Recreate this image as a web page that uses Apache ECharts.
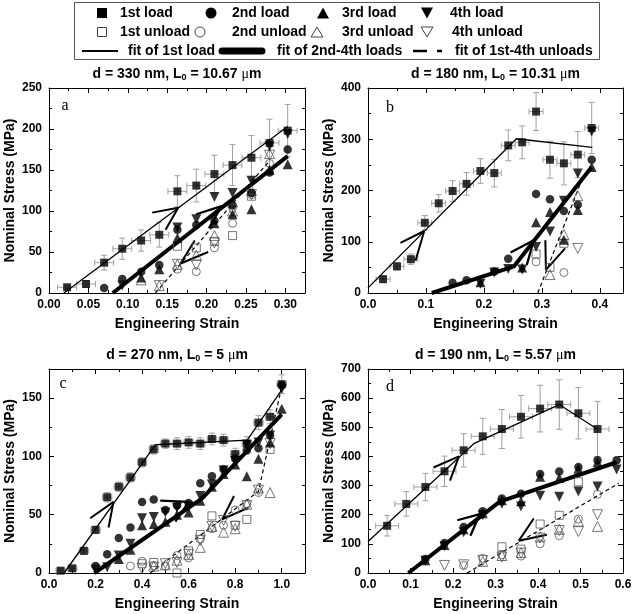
<!DOCTYPE html>
<html><head><meta charset="utf-8">
<script src="https://cdn.jsdelivr.net/npm/echarts@6/dist/echarts.min.js"></script>
<style>html,body{margin:0;padding:0;background:#fff}#c{width:638px;height:614px}</style>
</head><body><div id="c"></div>
<script>
// ---------------- Panel a : d = 330 nm, L0 = 10.67 um ----------------
const aX = [0.023,0.047,0.070,0.093,0.117,0.140,0.163,0.187,0.210,0.233,0.257,0.280,0.303];
const aLoad1 = [7,11,37,54,64,71,124,131,145,156,165,183,198];
const aLoad1Err = [2,4,9,13,13,15,19,20,23,25,27,29,32];
const aXErr = 0.012;
const aLoad2 = [[0.070,6],[0.093,17],[0.117,26],[0.140,34],[0.163,77],[0.187,83],[0.210,88],[0.233,107],[0.257,122],[0.280,147],[0.303,175]];
const aLoad3 = [[0.117,19],[0.140,29],[0.163,67],[0.210,85],[0.233,96],[0.257,102],[0.280,150],[0.303,157]];
const aLoad4 = [[0.093,9],[0.163,80],[0.187,90],[0.210,117],[0.233,122],[0.257,137],[0.280,179],[0.303,194]];
const aUnload1 = [[0.163,57],[0.187,55],[0.210,63],[0.233,70],[0.257,118]];
const aUnload2 = [[0.163,29],[0.187,26],[0.210,55],[0.233,85],[0.257,120],[0.280,158]];
const aUnload3 = [[0.117,16],[0.140,9],[0.163,35],[0.187,46],[0.210,70],[0.233,100],[0.257,125],[0.280,170]];
const aUnload4 = [[0.140,9],[0.163,35],[0.187,34],[0.210,61],[0.233,100],[0.257,120],[0.280,168]];
const aFit1 = [[0.019,0],[0.303,203]];
const aFit2 = [[0.081,0],[0.303,167]];
const aFitU = [[0.135,0],[0.279,160]];
const aArrow1 = [[0.131,98],[0.164,104],[0.148,77]];
const aArrow2 = [[0.187,96],[0.219,106],[0.203,79]];
const aArrowU = [[0.202,50],[0.167,36],[0.185,64]];

// ---------------- Panel b : d = 180 nm, L0 = 10.31 um ----------------
const bX = [0.026,0.050,0.074,0.098,0.122,0.146,0.170,0.194,0.218,0.242,0.266,0.290,0.314,0.338,0.362,0.386];
const bLoad1 = [27,52,66,137,175,199,213,238,234,288,294,354,260,253,270,322];
const bLoad1Err = [6,7,10,14,17,20,22,24,27,30,32,37,36,42,45,50];
const bXErr = 0.012;
const bLoad2 = [[0.146,20],[0.170,25],[0.218,42],[0.242,67],[0.290,193],[0.314,183],[0.338,160],[0.362,172],[0.386,260]];
const bLoad3 = [[0.194,21],[0.266,50],[0.290,138],[0.314,158],[0.338,104],[0.362,162],[0.386,246]];
const bLoad4 = [[0.194,18],[0.218,40],[0.242,47],[0.266,46],[0.290,90],[0.314,120],[0.338,180],[0.362,233],[0.386,315]];
const bUnload1 = [[0.290,76],[0.314,50],[0.338,97]];
const bUnload2 = [[0.290,61],[0.338,40]];
const bUnload3 = [[0.314,36],[0.338,114],[0.362,190]];
const bUnload4 = [[0.362,87]];
const bFit1 = [[0,10],[0.256,301],[0.387,284]];
const bFit2 = [[0.110,0],[0.252,52],[0.386,246]];
const bFitU = [[0.293,0],[0.372,230]];
const bArrow1 = [[0.056,98],[0.097,121],[0.082,63]];
const bArrow2 = [[0.246,79],[0.286,103],[0.274,55]];
const bArrowU = [[0.306,103],[0.307,45],[0.340,87]];

// ---------------- Panel c : d = 270 nm, L0 = 5 um ----------------
const cX = [0.05,0.10,0.15,0.20,0.25,0.30,0.35,0.40,0.45,0.50,0.55,0.60,0.65,0.70,0.75,0.80,0.85,0.90,0.95,1.00];
const cLoad1 = [2,4,19,37,65,74,82,95,106,111,111,112,111,115,114,102,111,129,134,162];
const cLoad1Err = [2,2,3,3,4,4,4,4,4,4,5,5,5,5,5,5,6,6,6,8];
const cXErr = 0.02;
const cLoad2 = [[0.20,6],[0.25,16],[0.30,30],[0.35,39],[0.40,61],[0.45,63],[0.50,54],[0.55,58],[0.60,60],[0.65,77],[0.70,83],[0.75,89],[0.80,98],[0.85,105],[0.90,107],[0.95,118],[1.00,161]];
const cLoad3 = [[0.30,12],[0.35,20],[0.40,41],[0.45,42],[0.50,44],[0.55,50],[0.60,52],[0.65,62],[0.70,74],[0.75,85],[0.80,93],[0.85,83],[0.90,98],[0.95,112],[1.00,141]];
const cLoad4 = [[0.20,3],[0.25,5],[0.30,15],[0.35,25],[0.40,47],[0.45,48],[0.50,52],[0.55,56],[0.60,57],[0.65,66],[0.70,76],[0.75,88],[0.80,96],[0.85,110],[0.90,112],[0.95,118],[1.00,158]];
const cUnload1 = [[0.40,8],[0.45,9],[0.55,0],[0.60,19],[0.65,33],[0.70,49],[0.80,41],[0.85,46],[0.95,106]];
const cUnload2 = [[0.35,6],[0.40,10],[0.45,6],[0.50,6],[0.55,15],[0.60,13],[0.65,29],[0.70,38],[0.75,41],[0.80,54],[0.85,59],[0.90,69]];
const cUnload3 = [[0.45,6],[0.50,7],[0.55,11],[0.60,16],[0.65,22],[0.70,40],[0.75,35],[0.80,38],[0.85,59],[0.90,73],[0.95,69]];
const cUnload4 = [[0.40,4],[0.45,5],[0.50,8],[0.55,9],[0.60,16],[0.65,28],[0.70,40],[0.75,45],[0.80,40],[0.85,58],[0.90,71],[0.95,111]];
const cFit1 = [[0.065,0],[0.457,110],[0.852,114],[1.0,157]];
const cFit2 = [[0.195,0],[0.658,64],[1.0,136]];
const cFitU = [[0.435,0],[0.90,70],[1.0,160]];
const cArrow1 = [[0.177,47],[0.277,61],[0.256,39]];
const cArrow2 = [[0.478,62],[0.600,61],[0.543,44]];
const cArrowU = [[0.795,66],[0.744,46],[0.856,56]];

// ---------------- Panel d : d = 190 nm, L0 = 5.57 um ----------------
const dX = [0.045,0.090,0.135,0.180,0.225,0.270,0.315,0.360,0.405,0.450,0.495,0.540];
const dLoad1 = [162,237,295,349,421,469,494,536,564,578,548,494];
const dLoad1Err = [35,42,47,52,57,62,67,73,80,85,88,95];
const dXErr = 0.027;
const dLoad2 = [[0.135,48],[0.180,103],[0.225,158],[0.270,212],[0.315,256],[0.360,272],[0.405,340],[0.450,348],[0.495,364],[0.540,387],[0.585,387]];
const dLoad3 = [[0.135,44],[0.180,96],[0.225,150],[0.270,205],[0.315,250],[0.360,246],[0.405,330],[0.450,326],[0.495,358],[0.540,380]];
const dLoad4 = [[0.135,42],[0.180,92],[0.225,140],[0.270,198],[0.315,238],[0.360,228],[0.405,265],[0.450,262],[0.495,280],[0.540,297],[0.585,355]];
const dUnload1 = [[0.315,90],[0.360,82],[0.405,168],[0.450,198],[0.495,313]];
const dUnload2 = [[0.225,26],[0.270,50],[0.315,62],[0.360,58],[0.405,100],[0.450,128],[0.495,185],[0.540,270]];
const dUnload3 = [[0.270,40],[0.315,60],[0.360,70],[0.405,124],[0.450,150],[0.495,178],[0.540,160]];
const dUnload4 = [[0.180,26],[0.225,28],[0.270,43],[0.315,55],[0.360,68],[0.405,120],[0.450,146],[0.495,142],[0.540,200]];
const dFit1 = [[0,108],[0.250,445],[0.450,578],[0.540,493]];
const dFit2 = [[0.095,0],[0.310,245],[0.585,380]];
const dFitU = [[0.233,0],[0.590,308]];
const dArrow1 = [[0.154,362],[0.214,400],[0.193,317]];
const dArrow2 = [[0.210,181],[0.263,202],[0.241,128]];
const dArrowU = [[0.390,187],[0.355,111],[0.421,131]];

// ---------------- axes / titles ----------------
const panelTitles = ['d = 330 nm, L{s|0} = 10.67 {mu|μ}m','d = 180 nm, L{s|0} = 10.31 {mu|μ}m','d = 270 nm, L{s|0} = 5 {mu|μ}m','d = 190 nm, L{s|0} = 5.57 {mu|μ}m'];
const panelLetters = ['a','b','c','d'];
const xMaxes = [0.325, 0.44, 1.1, 0.6];
const xSteps = [0.05, 0.1, 0.2, 0.1];
const xDecimals = [2, 1, 1, 1];
const yMaxes = [250, 400, 175, 700];
const ySteps = [50, 100, 50, 100];
const xName = 'Engineering Strain';
const yName = 'Nominal Stress (MPa)';

const FONT = '"Liberation Sans", Arial, sans-serif';
const SERIF = '"Liberation Serif", "Times New Roman", serif';

const panels = [
  {grid:{left:49, top:88, width:256, height:205}, X:aX, L1:aLoad1, E:aLoad1Err, XE:aXErr, L2:aLoad2, L3:aLoad3, L4:aLoad4, U1:aUnload1, U2:aUnload2, U3:aUnload3, U4:aUnload4, F1:aFit1, F2:aFit2, FU:aFitU, A1:aArrow1, A2:aArrow2, AU:aArrowU, letterPos:[65,106], titleY:74},
  {grid:{left:368, top:88, width:255, height:205}, X:bX, L1:bLoad1, E:bLoad1Err, XE:bXErr, L2:bLoad2, L3:bLoad3, L4:bLoad4, U1:bUnload1, U2:bUnload2, U3:bUnload3, U4:bUnload4, F1:bFit1, F2:bFit2, FU:bFitU, A1:bArrow1, A2:bArrow2, AU:bArrowU, letterPos:[390,108], titleY:74},
  {grid:{left:49, top:369, width:256, height:204}, X:cX, L1:cLoad1, E:cLoad1Err, XE:cXErr, L2:cLoad2, L3:cLoad3, L4:cLoad4, U1:cUnload1, U2:cUnload2, U3:cUnload3, U4:cUnload4, F1:cFit1, F2:cFit2, FU:cFitU, A1:cArrow1, A2:cArrow2, AU:cArrowU, letterPos:[63,384], titleY:355},
  {grid:{left:368, top:369, width:255, height:204}, X:dX, L1:dLoad1, E:dLoad1Err, XE:dXErr, L2:dLoad2, L3:dLoad3, L4:dLoad4, U1:dUnload1, U2:dUnload2, U3:dUnload3, U4:dUnload4, F1:dFit1, F2:dFit2, FU:dFitU, A1:dArrow1, A2:dArrow2, AU:dArrowU, letterPos:[390,387], titleY:355}
];

function isMultiple(v, step){ const r = v/step; return Math.abs(r - Math.round(r)) < 1e-6; }

const grids = [], xAxes = [], yAxes = [], series = [], graphics = [];
const tickLine = {color:'#000', width:1};
const labelBase = {fontFamily:FONT, fontWeight:'bold', fontSize:12, color:'#000'};
const nameBase = {fontFamily:FONT, fontWeight:'bold', fontSize:14, color:'#000'};

function errRender(params, api){
  const x = api.value(0), y = api.value(1), xe = api.value(2), ye = api.value(3);
  const top = api.coord([x, y + ye]), bot = api.coord([x, y - ye]);
  const l = api.coord([x - xe, y]), r = api.coord([x + xe, y]);
  const cap = 3;
  const st = {stroke:'#a0a0a0', lineWidth:1, fill:null};
  return {type:'group', children:[
    {type:'line', shape:{x1:top[0], y1:top[1], x2:bot[0], y2:bot[1]}, style:st},
    {type:'line', shape:{x1:top[0]-cap, y1:top[1], x2:top[0]+cap, y2:top[1]}, style:st},
    {type:'line', shape:{x1:bot[0]-cap, y1:bot[1], x2:bot[0]+cap, y2:bot[1]}, style:st},
    {type:'line', shape:{x1:l[0], y1:l[1], x2:r[0], y2:r[1]}, style:st},
    {type:'line', shape:{x1:l[0], y1:l[1]-cap, x2:l[0], y2:l[1]+cap}, style:st},
    {type:'line', shape:{x1:r[0], y1:r[1]-cap, x2:r[0], y2:r[1]+cap}, style:st}
  ]};
}

panels.forEach((p, i) => {
  grids.push(Object.assign({containLabel:false}, p.grid));
  const xs = xSteps[i], ys = ySteps[i];
  const xCommon = {gridIndex:i, type:'value', min:0, max:xMaxes[i], interval:xs,
    axisLine:{show:true, onZero:false, lineStyle:tickLine},
    axisTick:{show:true, inside:true, length:5, lineStyle:tickLine},
    minorTick:{show:true, splitNumber:2, length:3, lineStyle:tickLine},
    splitLine:{show:false}, minorSplitLine:{show:false}};
  xAxes.push(Object.assign({}, xCommon, {position:'bottom', name:xName, nameLocation:'middle', nameGap:24, nameTextStyle:nameBase,
    axisLabel:Object.assign({show:true, margin:6, formatter:v => isMultiple(v, xs) ? v.toFixed(xDecimals[i]) : ''}, labelBase)}));
  xAxes.push(Object.assign({}, xCommon, {position:'top', axisLabel:{show:false}}));
  const yCommon = {gridIndex:i, type:'value', min:0, max:yMaxes[i], interval:ys,
    axisLine:{show:true, onZero:false, lineStyle:tickLine},
    axisTick:{show:true, inside:true, length:5, lineStyle:tickLine},
    minorTick:{show:true, splitNumber:2, length:3, lineStyle:tickLine},
    splitLine:{show:false}, minorSplitLine:{show:false}};
  yAxes.push(Object.assign({}, yCommon, {position:'left', name:yName, nameLocation:'middle', nameGap:32, nameTextStyle:nameBase,
    axisLabel:Object.assign({show:true, margin:7, formatter:v => isMultiple(v, ys) ? String(Math.round(v)) : ''}, labelBase)}));
  yAxes.push(Object.assign({}, yCommon, {position:'right', axisLabel:{show:false}}));

  const xi = 2*i, yi = 2*i;
  series.push({type:'custom', name:'1st load error', xAxisIndex:xi, yAxisIndex:yi, renderItem:errRender, z:1,
    encode:{x:0, y:1}, data:p.X.map((x,k) => [x, p.L1[k], p.XE, p.E[k]])});
  const lineS = (name, data, width, type) => ({type:'line', name, xAxisIndex:xi, yAxisIndex:yi, data, symbol:'none', z:2,
    lineStyle:{color:'#000', width, type:type || 'solid'}, silent:true});
  series.push(lineS('fit of 1st load', p.F1, 1.3));
  series.push(lineS('fit of 2nd-4th loads', p.F2, 4));
  series.push(lineS('fit of 1st-4th unloads', p.FU, 1.2, [4,3]));
  series.push(lineS('arrow', p.A1, 2));
  series.push(lineS('arrow', p.A2, 2.3));
  series.push(lineS('arrow', p.AU, 2));
  const sc = (name, data, symbol, size, filled, rot) => ({type:'scatter', name, xAxisIndex:xi, yAxisIndex:yi, data, symbol, symbolSize:size, symbolRotate:rot || 0, z:3,
    itemStyle: filled ? {color:'#000'} : {color:'rgba(0,0,0,0)', borderColor:'#555', borderWidth:1}});
  series.push(sc('1st unload', p.U1, 'rect', 8, false));
  series.push(sc('2nd unload', p.U2, 'circle', 8, false));
  series.push(sc('3rd unload', p.U3, 'triangle', 10, false));
  series.push(sc('4th unload', p.U4, 'triangle', 10, false, 180));
  series.push(sc('3rd load', p.L3, 'triangle', 10, true));
  series.push(sc('4th load', p.L4, 'triangle', 10, true, 180));
  series.push(sc('2nd load', p.L2, 'circle', 8.5, true));
  series.push(sc('1st load', p.X.map((x,k) => [x, p.L1[k]]), 'rect', 8, true));

  graphics.push({type:'text', z:10, style:{text:panelTitles[i], x:p.grid.left + p.grid.width/2, y:p.titleY,
    align:'center', verticalAlign:'middle', textAlign:'center', textVerticalAlign:'middle',
    font:'bold 14px ' + FONT, fill:'#000',
    rich:{s:{fontSize:9, fontWeight:'bold', fontFamily:FONT, padding:[7,0,0,0]}, mu:{fontSize:14, fontWeight:'normal', fontFamily:SERIF}}}});
  graphics.push({type:'text', z:10, style:{text:panelLetters[i], x:p.letterPos[0], y:p.letterPos[1],
    align:'center', verticalAlign:'middle', textAlign:'center', textVerticalAlign:'middle',
    font:'16px ' + SERIF, fill:'#000'}});
});

// ---------------- legend (drawn) ----------------
const legendText = [
  ['1st load', 120, 13], ['2nd load', 232, 13], ['3rd load', 342, 13], ['4th load', 450, 13],
  ['1st unload', 120, 32], ['2nd unload', 232, 32], ['3rd unload', 342, 32], ['4th unload', 452, 32],
  ['fit of 1st load', 128, 51], ['fit of 2nd-4th loads', 277, 51], ['fit of 1st-4th unloads', 455, 51]
];
graphics.push({type:'rect', z:10, shape:{x:74.5, y:2.5, width:525, height:57}, style:{fill:'#fff', stroke:'#555', lineWidth:1}});
legendText.forEach(t => graphics.push({type:'text', z:11, style:{text:t[0], x:t[1], y:t[2], align:'left', verticalAlign:'middle',
  textAlign:'left', textVerticalAlign:'middle', font:'bold 14px ' + FONT, fill:'#000'}}));
const fillS = {fill:'#000'}, strokeS = {fill:'none', stroke:'#444', lineWidth:1};
graphics.push({type:'rect', z:11, shape:{x:97, y:8, width:10, height:10}, style:fillS});
graphics.push({type:'circle', z:11, shape:{cx:211, cy:13, r:5.5}, style:fillS});
graphics.push({type:'polygon', z:11, shape:{points:[[317,18.5],[329,18.5],[323,7.5]]}, style:fillS});
graphics.push({type:'polygon', z:11, shape:{points:[[421,7.5],[433,7.5],[427,18.5]]}, style:fillS});
graphics.push({type:'rect', z:11, shape:{x:97.5, y:27.5, width:9, height:9}, style:strokeS});
graphics.push({type:'circle', z:11, shape:{cx:200, cy:32, r:5}, style:strokeS});
graphics.push({type:'polygon', z:11, shape:{points:[[311,37],[323,37],[317,27]]}, style:strokeS});
graphics.push({type:'polygon', z:11, shape:{points:[[421,27],[433,27],[427,37]]}, style:strokeS});
graphics.push({type:'line', z:11, shape:{x1:82, y1:51, x2:118, y2:51}, style:{stroke:'#000', lineWidth:2}});
graphics.push({type:'line', z:11, shape:{x1:222, y1:51, x2:262, y2:51}, style:{stroke:'#000', lineWidth:7, lineCap:'round'}});
graphics.push({type:'line', z:11, shape:{x1:413, y1:51, x2:427, y2:51}, style:{stroke:'#000', lineWidth:2.5}});
graphics.push({type:'line', z:11, shape:{x1:437, y1:51, x2:442, y2:51}, style:{stroke:'#000', lineWidth:2.5}});

const chart = echarts.init(document.getElementById('c'), null, {renderer:'canvas'});
chart.setOption({
  animation:false,
  backgroundColor:'#fff',
  grid:grids, xAxis:xAxes, yAxis:yAxes, series, graphic:graphics
});
</script>
</body></html>
